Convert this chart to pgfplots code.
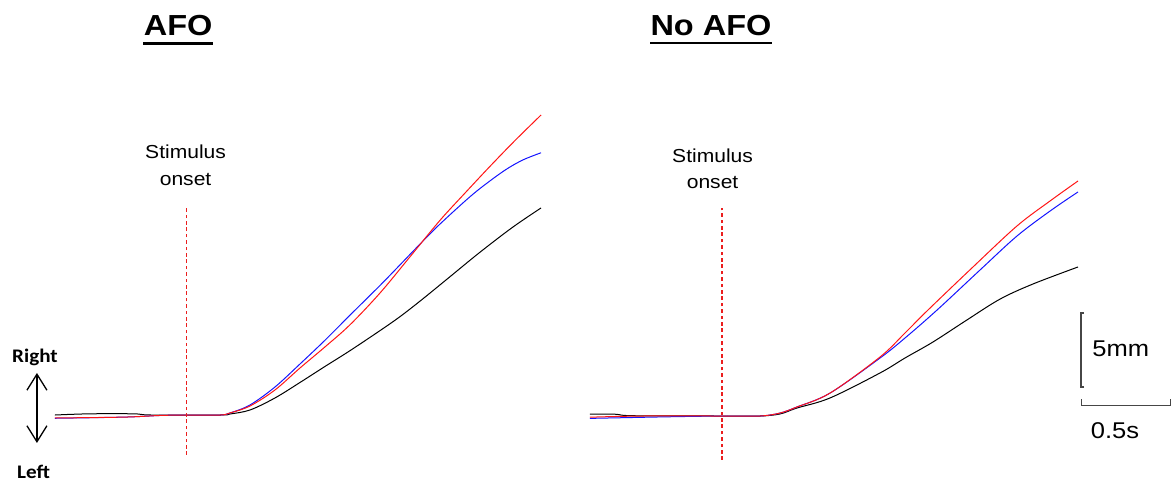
\documentclass[border=0pt]{standalone}
\usepackage{fontspec}
\setmainfont{Liberation Sans}[FakeStretch=1.12]
\newfontfamily\calib{Carlito}[FakeStretch=1.1]
\usepackage{pgfplots}
\pgfplotsset{compat=1.18}
\usetikzlibrary{arrows.meta}
\definecolor{cred}{RGB}{255,20,20}
\definecolor{cdash}{RGB}{235,30,30}
\definecolor{cblue}{RGB}{20,20,255}
\definecolor{cgray}{RGB}{70,70,70}
\pgfplotsset{
  panel/.style={
    hide axis, clip=false, anchor=south west,
    x=89pt, y=7.4pt,
    xmin=-0.75, xmax=2.0, ymin=-3, ymax=21,
  },
  tr/.style={line width=0.5pt, smooth, tension=0.55, no markers},
  onset/.style={draw=cdash, color=cdash, line width=0.7pt, dash pattern=on 1.8pt off 1.4pt, no markers},
}
\begin{document}
\begin{tikzpicture}
\useasboundingbox (0,0) rectangle (586pt,-242pt);
% ---------------- Panel 1: AFO ----------------
\begin{axis}[panel, at={(26.75pt,-229.7pt)}]
\addplot[tr, black] coordinates {(-0.742,0) (-0.55,0.08) (-0.30,0.08) (-0.2,0) (0.185,0) (0.242,0.07) (0.354,0.34) (0.494,1.15) (0.635,2.20) (0.775,3.28) (0.916,4.35) (1.084,5.70) (1.197,6.65) (1.320,7.80) (1.478,9.35) (1.646,11.00) (1.831,12.70) (1.989,13.99)};
\addplot[tr, cblue] coordinates {(-0.742,-0.22) (-0.35,-0.14) (-0.15,-0.03) (0,0) (0.185,0) (0.242,0.14) (0.354,0.68) (0.494,1.89) (0.635,3.45) (0.775,5.05) (0.916,6.75) (1.084,8.75) (1.197,10.15) (1.309,11.55) (1.421,12.90) (1.590,14.75) (1.700,15.80) (1.800,16.65) (1.890,17.25) (1.989,17.72)};
\addplot[tr, cred] coordinates {(-0.742,-0.20) (-0.35,-0.14) (-0.15,-0.03) (0,0) (0.185,0) (0.242,0.14) (0.354,0.61) (0.494,1.69) (0.635,3.18) (0.775,4.60) (0.916,6.10) (1.084,8.24) (1.250,10.65) (1.421,13.15) (1.562,15.00) (1.702,16.80) (1.843,18.55) (1.989,20.27)};
\addplot[onset] coordinates {(-0.0028,-2.70) (-0.0028,13.99)};
% title
\node[anchor=base, inner sep=0pt, font=\fontsize{14.5pt}{17pt}\selectfont\bfseries] (t1) at (axis cs:-0.05,25.61) {AFO};
\draw[line width=1.35pt] ([yshift=-3.6pt]t1.base west) -- ([yshift=-3.6pt]t1.base east);
% stimulus onset
\node[anchor=base, inner sep=0pt, font=\fontsize{9.4pt}{11pt}\selectfont] at (axis cs:-0.008,17.30) {Stimulus};
\node[anchor=base, inner sep=0pt, font=\fontsize{9.4pt}{11pt}\selectfont] at (axis cs:-0.008,15.54) {onset};
% right / left arrow
\draw[line width=0.65pt, {Straight Barb[length=8pt,width=10pt]}-{Straight Barb[length=8pt,width=10pt]}] (axis cs:-0.843,2.84) -- (axis cs:-0.843,-1.89);
\node[anchor=base, inner sep=0pt, font=\fontsize{9.6pt}{11pt}\calib\bfseries] at (axis cs:-0.854,3.58) {Right};
\node[anchor=base, inner sep=0pt, font=\fontsize{9.6pt}{11pt}\calib\bfseries] at (axis cs:-0.862,-4.32) {Left};
\end{axis}
% ---------------- Panel 2: No AFO ----------------
\begin{axis}[panel, at={(294.25pt,-230.2pt)}]
\addplot[tr, black] coordinates {(-0.742,0.12) (-0.60,0.12) (-0.50,0.02) (0,0) (0.213,0) (0.326,0.14) (0.421,0.54) (0.607,1.22) (0.888,2.91) (1.028,3.92) (1.185,5.00) (1.376,6.49) (1.562,7.90) (1.747,8.92) (2.000,10.07)};
\addplot[tr, cblue] coordinates {(-0.742,-0.16) (-0.29,-0.05) (0,0) (0.213,0) (0.326,0.20) (0.421,0.61) (0.607,1.55) (0.888,3.92) (1.028,5.27) (1.208,7.16) (1.449,9.86) (1.657,12.16) (1.843,13.85) (2.000,15.14)};
\addplot[tr, cred] coordinates {(-0.742,-0.08) (-0.45,0) (0,0) (0.213,0) (0.326,0.20) (0.421,0.61) (0.607,1.55) (0.888,3.99) (1.028,5.61) (1.157,7.16) (1.410,10.07) (1.657,12.84) (1.843,14.53) (2.000,15.88)};
\addplot[onset, line width=0.55pt] coordinates {(0,-2.97) (0,14.05)};
% title
\node[anchor=base, inner sep=0pt, font=\fontsize{14.5pt}{17pt}\selectfont\bfseries] (t2) at (axis cs:-0.062,25.68) {No AFO};
\draw[line width=1.35pt] ([yshift=-3.6pt]t2.base west) -- ([yshift=-3.6pt]t2.base east);
% stimulus onset
\node[anchor=base, inner sep=0pt, font=\fontsize{9.4pt}{11pt}\selectfont] at (axis cs:-0.053,17.16) {Stimulus};
\node[anchor=base, inner sep=0pt, font=\fontsize{9.4pt}{11pt}\selectfont] at (axis cs:-0.053,15.34) {onset};
% scale bars
\addplot[cgray, line width=0.55pt, no markers] coordinates {(2.034,1.96) (2.017,1.96) (2.017,6.96) (2.034,6.96)};
\addplot[cgray, line width=0.55pt, no markers] coordinates {(2.022,1.14) (2.022,0.74) (2.522,0.74) (2.522,1.14)};
\node[anchor=base west, inner sep=0pt, font=\fontsize{11.4pt}{13pt}\selectfont] at (axis cs:2.079,3.99) {5mm};
\node[anchor=base, inner sep=0pt, font=\fontsize{11.4pt}{13pt}\selectfont] at (axis cs:2.208,-1.55) {0.5s};
\end{axis}
\end{tikzpicture}
\end{document}
